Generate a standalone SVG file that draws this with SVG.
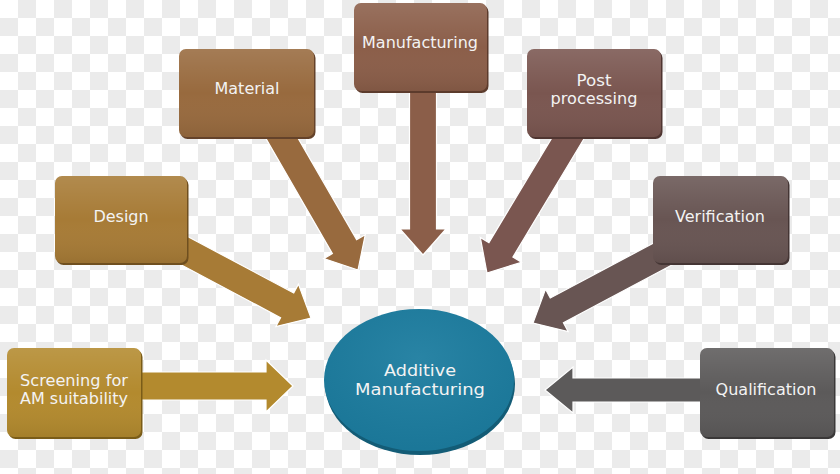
<svg xmlns="http://www.w3.org/2000/svg" width="840" height="474" viewBox="0 0 840 474">
  <defs>
    <pattern id="checker" x="0" y="0" width="36" height="36" patternUnits="userSpaceOnUse">
      <rect width="36" height="36" fill="#ffffff"/>
      <rect x="18" y="0" width="18" height="18" fill="#ebebeb"/>
      <rect x="0" y="18" width="18" height="18" fill="#ebebeb"/>
    </pattern>
    <linearGradient id="shine" x1="0" y1="0" x2="0" y2="1">
      <stop offset="0" stop-color="#ffffff" stop-opacity="0.12"/>
      <stop offset="0.5" stop-color="#ffffff" stop-opacity="0"/>
      <stop offset="1" stop-color="#000000" stop-opacity="0.08"/>
    </linearGradient>
    <radialGradient id="discShine" cx="0.5" cy="0.35" r="0.7">
      <stop offset="0" stop-color="#ffffff" stop-opacity="0.06"/>
      <stop offset="1" stop-color="#000000" stop-opacity="0.05"/>
    </radialGradient>
  </defs>
  <style>
    .lbl { font-family: "DejaVu Sans", "Liberation Sans", sans-serif; font-size: 16px; fill: #f3f3f3; text-anchor: middle; }
    .two { font-size: 15.5px; }
    .big { font-size: 16px; }
    .arrow { stroke: #ffffff; stroke-width: 1.2; stroke-linejoin: miter; }
    .shine { fill: url(#shine); }
  </style>

  <rect width="840" height="474" fill="url(#checker)"/>

  <g id="connectors">
    <path class="arrow" fill="#b38a2e" transform="translate(293,386) rotate(0)" d="M -160,-14 H -27 V -26 L 0,0 L -27,26 V 14 H -160 Z"/>
    <path class="arrow" fill="#a77b36" transform="translate(311,318) rotate(28)" d="M -160,-14 H -27 V -24 L 0,0 L -27,24 V 14 H -160 Z"/>
    <path class="arrow" fill="#986a3e" transform="translate(358,270) rotate(60)" d="M -165,-14 H -27 V -24 L 0,0 L -27,24 V 14 H -165 Z"/>
    <path class="arrow" fill="#8b5e49" transform="translate(423,255) rotate(90)" d="M -175,-13.5 H -26 V -23 L 0,0 L -26,23 V 13.5 H -175 Z"/>
    <path class="arrow" fill="#7a5650" transform="translate(487,273) rotate(121)" d="M -170,-14 H -27 V -24 L 0,0 L -27,24 V 14 H -170 Z"/>
    <path class="arrow" fill="#685553" transform="translate(533,323) rotate(152)" d="M -160,-14 H -27 V -24 L 0,0 L -27,24 V 14 H -160 Z"/>
    <path class="arrow" fill="#5c5a5a" transform="translate(545,390) rotate(180)" d="M -170,-12 H -28 V -23 L 0,0 L -28,23 V 12 H -170 Z"/>
  </g>

  <g id="screening">
    <rect x="8.5" y="350" width="134" height="89" rx="7" fill="#7a5c18"/>
    <rect x="7" y="348" width="134" height="89" rx="7" fill="#b38a2e"/>
    <rect class="shine" x="7" y="348" width="134" height="89" rx="7"/>
    <text class="lbl two" x="74" y="386" textLength="108" lengthAdjust="spacingAndGlyphs">Screening for</text>
    <text class="lbl two" x="74" y="404" textLength="108" lengthAdjust="spacingAndGlyphs">AM suitability</text>
  </g>

  <g id="design">
    <rect x="56.5" y="178" width="132" height="87" rx="7" fill="#6f4f1f"/>
    <rect x="55" y="176" width="132" height="87" rx="7" fill="#a77b36"/>
    <rect class="shine" x="55" y="176" width="132" height="87" rx="7"/>
    <text class="lbl" x="121" y="222">Design</text>
  </g>

  <g id="material">
    <rect x="180.5" y="51" width="135" height="88" rx="7" fill="#64422a"/>
    <rect x="179" y="49" width="135" height="88" rx="7" fill="#986a3e"/>
    <rect class="shine" x="179" y="49" width="135" height="88" rx="7"/>
    <text class="lbl" x="247" y="94">Material</text>
  </g>

  <g id="manufacturing">
    <rect x="355.5" y="5" width="133" height="88" rx="7" fill="#5c3b2c"/>
    <rect x="354" y="3" width="133" height="88" rx="7" fill="#8b5e49"/>
    <rect class="shine" x="354" y="3" width="133" height="88" rx="7"/>
    <text class="lbl" x="420" y="48">Manufacturing</text>
  </g>

  <g id="post-processing">
    <rect x="528.5" y="51" width="134" height="88" rx="7" fill="#4f3531"/>
    <rect x="527" y="49" width="134" height="88" rx="7" fill="#7a5650"/>
    <rect class="shine" x="527" y="49" width="134" height="88" rx="7"/>
    <text class="lbl two" x="594" y="86" textLength="35" lengthAdjust="spacingAndGlyphs">Post</text>
    <text class="lbl two" x="594" y="104" textLength="87" lengthAdjust="spacingAndGlyphs">processing</text>
  </g>

  <g id="verification">
    <rect x="654.5" y="178" width="135" height="87" rx="7" fill="#443534"/>
    <rect x="653" y="176" width="135" height="87" rx="7" fill="#685553"/>
    <rect class="shine" x="653" y="176" width="135" height="87" rx="7"/>
    <text class="lbl" x="720" y="222">Verification</text>
  </g>

  <g id="qualification">
    <rect x="701.5" y="350" width="134" height="89" rx="7" fill="#3a3838"/>
    <rect x="700" y="348" width="134" height="89" rx="7" fill="#5c5a5a"/>
    <rect class="shine" x="700" y="348" width="134" height="89" rx="7"/>
    <text class="lbl" x="766" y="395">Qualification</text>
  </g>

  <g id="additive-manufacturing">
    <ellipse cx="420" cy="384" rx="95" ry="71" fill="#135c76"/>
    <ellipse cx="419" cy="380" rx="95" ry="71" fill="#1b7c9f"/>
    <ellipse cx="419" cy="380" rx="95" ry="71" fill="url(#discShine)"/>
    <text class="lbl big" x="420" y="376" textLength="72" lengthAdjust="spacingAndGlyphs">Additive</text>
    <text class="lbl big" x="420" y="395" textLength="130" lengthAdjust="spacingAndGlyphs">Manufacturing</text>
  </g>
</svg>
